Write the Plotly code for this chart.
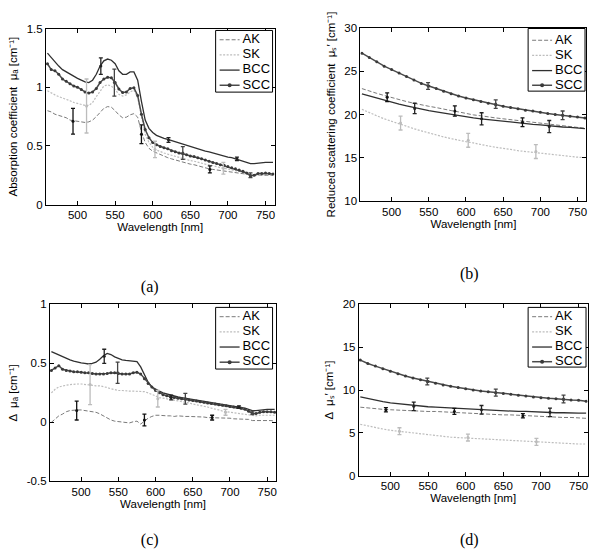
import plotly.graph_objects as go

# ---------------- data ----------------
WL_A = list(range(460, 761, 5))   # wavelengths for panels (a), (c)
WL_S = list(range(460, 761, 10))  # wavelengths for panels (b), (d)

# (a) absorption coefficient mu_a [cm^-1]
A_AK = [0.80,0.79,0.77,0.76,0.75,0.74,0.72,0.715,0.71,0.705,0.70,0.705,0.72,0.75,0.79,0.82,0.835,0.83,0.80,0.765,
        0.74,0.745,0.765,0.775,0.745,0.62,0.53,0.48,0.455,0.44,0.425,0.41,0.40,0.39,0.38,0.37,0.36,0.35,0.345,0.34,
        0.33,0.32,0.31,0.305,0.30,0.295,0.29,0.285,0.28,0.275,0.27,0.265,0.26,0.255,0.25,0.25,0.25,0.25,0.25,0.25,0.25]
A_SK = [0.97,0.95,0.935,0.92,0.91,0.90,0.885,0.87,0.86,0.85,0.845,0.845,0.87,0.92,0.97,1.01,1.02,1.01,0.98,0.94,
        0.925,0.935,0.96,0.975,0.91,0.74,0.60,0.53,0.49,0.465,0.45,0.44,0.43,0.42,0.41,0.40,0.39,0.38,0.375,0.37,
        0.36,0.35,0.345,0.34,0.33,0.325,0.315,0.31,0.30,0.295,0.29,0.285,0.28,0.27,0.255,0.25,0.25,0.255,0.255,0.255,0.255]
A_BCC = [1.29,1.25,1.21,1.18,1.15,1.13,1.11,1.09,1.075,1.06,1.045,1.04,1.06,1.11,1.18,1.225,1.24,1.23,1.20,1.14,
         1.11,1.11,1.13,1.13,1.06,0.88,0.72,0.65,0.615,0.59,0.575,0.565,0.555,0.545,0.535,0.52,0.51,0.50,0.495,0.485,
         0.475,0.465,0.455,0.45,0.44,0.43,0.42,0.41,0.405,0.40,0.39,0.385,0.375,0.36,0.35,0.35,0.355,0.36,0.36,0.36,0.36]
A_SCC = [1.20,1.15,1.14,1.11,1.07,1.05,1.03,1.01,1.00,0.98,0.96,0.95,0.96,0.99,1.04,1.07,1.085,1.08,1.04,0.985,
         0.955,0.96,0.99,0.995,0.93,0.77,0.64,0.57,0.53,0.51,0.495,0.485,0.475,0.46,0.45,0.44,0.435,0.425,0.415,0.41,
         0.40,0.39,0.38,0.37,0.36,0.35,0.34,0.335,0.325,0.315,0.305,0.295,0.285,0.27,0.245,0.25,0.265,0.265,0.27,0.265,0.26]

# (b) reduced scattering coefficient mu_s' [cm^-1]
B_AK = [23.0,22.7,22.45,22.2,21.95,21.7,21.5,21.3,21.1,20.95,20.8,20.6,20.45,20.3,20.1,19.95,19.85,19.7,19.6,19.5,
        19.4,19.3,19.2,19.1,19.0,18.9,18.8,18.7,18.6,18.5,18.4]
B_SK = [20.6,20.2,19.85,19.5,19.2,18.9,18.6,18.35,18.1,17.85,17.6,17.4,17.2,17.0,16.85,16.7,16.5,16.35,16.2,16.1,
        15.95,15.8,15.7,15.6,15.5,15.4,15.3,15.2,15.1,15.05,15.0]
B_BCC = [22.4,22.15,21.9,21.65,21.4,21.2,21.0,20.8,20.6,20.45,20.3,20.15,20.0,19.85,19.75,19.6,19.5,19.4,19.3,19.2,
         19.1,19.0,18.95,18.85,18.8,18.7,18.6,18.55,18.5,18.4,18.35]
B_SCC = [27.1,26.6,26.1,25.6,25.2,24.8,24.4,24.0,23.6,23.3,23.0,22.7,22.4,22.15,21.9,21.7,21.5,21.3,21.1,20.95,
         20.8,20.65,20.5,20.4,20.25,20.1,20.0,19.9,19.8,19.7,19.6]

# (c) delta mu_a [cm^-1]
C_AK = [0.00,0.03,0.055,0.07,0.09,0.10,0.105,0.105,0.105,0.10,0.10,0.095,0.085,0.072,0.055,0.035,0.02,0.01,0.005,0.003,
        0.0,-0.005,0.005,0.01,-0.015,0.01,0.035,0.05,0.06,0.06,0.055,0.055,0.055,0.05,0.055,0.05,0.05,0.05,0.05,0.05,
        0.045,0.045,0.04,0.04,0.04,0.04,0.035,0.035,0.035,0.03,0.03,0.03,0.03,0.025,0.015,0.015,0.02,0.02,0.02,0.015,0.01]
C_SK = [0.25,0.28,0.30,0.31,0.315,0.32,0.325,0.325,0.325,0.32,0.315,0.315,0.31,0.31,0.305,0.295,0.285,0.275,0.27,0.27,
        0.265,0.265,0.265,0.265,0.265,0.26,0.25,0.235,0.22,0.21,0.205,0.20,0.195,0.19,0.18,0.175,0.17,0.165,0.155,0.15,
        0.14,0.135,0.13,0.12,0.115,0.105,0.095,0.09,0.085,0.08,0.075,0.07,0.065,0.06,0.055,0.055,0.06,0.06,0.06,0.06,0.06]
C_BCC = [0.60,0.585,0.57,0.555,0.54,0.53,0.52,0.51,0.505,0.50,0.495,0.50,0.51,0.535,0.565,0.585,0.575,0.555,0.54,0.53,
         0.525,0.52,0.52,0.515,0.47,0.40,0.34,0.30,0.28,0.265,0.25,0.24,0.23,0.225,0.215,0.21,0.205,0.20,0.19,0.185,
         0.18,0.175,0.17,0.165,0.16,0.155,0.15,0.145,0.14,0.135,0.13,0.125,0.12,0.11,0.10,0.10,0.105,0.11,0.11,0.11,0.11]
C_SCC = [0.44,0.46,0.48,0.45,0.44,0.435,0.43,0.43,0.425,0.42,0.42,0.415,0.41,0.41,0.41,0.415,0.42,0.42,0.415,0.41,
         0.41,0.41,0.42,0.425,0.41,0.37,0.33,0.30,0.27,0.25,0.235,0.225,0.215,0.21,0.205,0.20,0.195,0.19,0.185,0.18,
         0.175,0.17,0.165,0.16,0.155,0.15,0.145,0.14,0.135,0.13,0.125,0.12,0.11,0.095,0.075,0.075,0.085,0.09,0.09,0.09,0.085]

# (d) delta mu_s' [cm^-1]
D_AK = [8.0,7.9,7.8,7.75,7.7,7.65,7.6,7.6,7.55,7.5,7.5,7.45,7.4,7.35,7.3,7.3,7.25,7.2,7.15,7.1,
        7.1,7.05,7.0,7.0,6.95,6.9,6.85,6.8,6.8,6.75,6.7]
D_SK = [6.0,5.8,5.6,5.45,5.3,5.2,5.05,4.95,4.85,4.75,4.65,4.6,4.5,4.45,4.4,4.35,4.3,4.25,4.2,4.15,
        4.1,4.05,4.0,3.95,3.9,3.85,3.8,3.8,3.75,3.7,3.7]
D_BCC = [9.2,9.0,8.8,8.65,8.5,8.4,8.3,8.2,8.1,8.05,8.0,7.95,7.9,7.85,7.8,7.75,7.7,7.65,7.6,7.6,
         7.55,7.5,7.5,7.45,7.4,7.4,7.35,7.35,7.3,7.3,7.3]
D_SCC = [13.5,13.1,12.8,12.5,12.2,11.9,11.65,11.4,11.2,11.0,10.8,10.6,10.45,10.3,10.15,10.0,9.9,9.8,9.7,9.6,
         9.5,9.4,9.3,9.2,9.1,9.05,9.0,8.9,8.85,8.8,8.7]

# error-bar wavelengths per series
EB_WL = {"AK": [494, 585, 676], "SK": [512, 603, 694], "BCC": [531, 621, 712], "SCC": [549, 640, 730]}
# error-bar means and half-widths per panel
EB_A = {"AK": ([0.71, 0.60, 0.30], [0.11, 0.08, 0.03]),
        "SK": ([0.84, 0.47, 0.31], [0.23, 0.07, 0.05]),
        "BCC": ([1.18, 0.55, 0.39], [0.07, 0.02, 0.015]),
        "SCC": ([1.04, 0.44, 0.25], [0.115, 0.055, 0.02])}
EB_B = {"AK": ([22.0, 20.4, 19.1], [0.5, 0.6, 0.5]),
        "SK": ([19.0, 17.0, 15.7], [0.8, 0.8, 0.8]),
        "BCC": ([20.7, 19.5, 18.6], [0.6, 0.7, 0.7]),
        "SCC": ([23.3, 21.2, 19.9], [0.4, 0.5, 0.5])}
EB_C = {"AK": ([0.10, 0.02, 0.04], [0.08, 0.05, 0.02]),
        "SK": ([0.32, 0.20, 0.085], [0.17, 0.07, 0.025]),
        "BCC": ([0.56, 0.21, 0.13], [0.06, 0.02, 0.01]),
        "SCC": ([0.42, 0.20, 0.08], [0.09, 0.045, 0.015])}
EB_D = {"AK": ([7.7, 7.5, 7.0], [0.25, 0.35, 0.25]),
        "SK": ([5.2, 4.45, 3.95], [0.4, 0.4, 0.4]),
        "BCC": ([8.1, 7.7, 7.4], [0.5, 0.5, 0.5]),
        "SCC": ([11.0, 9.7, 8.95], [0.4, 0.4, 0.45])}

NAMES = ["AK", "SK", "BCC", "SCC"]
CAPTIONS = ["(a)", "(b)", "(c)", "(d)"]
YTITLES = ["Absorption coefficient  \u03bc\u2090 [cm\u207b\u00b9]",
           "Reduced scattering coefficient  \u03bc\u209b\u2032 [cm\u207b\u00b9]",
           "\u0394  \u03bc\u2090 [cm\u207b\u00b9]",
           "\u0394  \u03bc\u209b\u2032 [cm\u207b\u00b9]"]

# ---------------- styles ----------------
FONT = "Liberation Sans"
LINE = {"AK": dict(color="#7a7a7a", width=1, dash="4px,2px"),
        "SK": dict(color="#bdbdbd", width=1.2, dash="2px,1.5px"),
        "BCC": dict(color="#303030", width=1.3, dash="solid"),
        "SCC": dict(color="#4a4a4a", width=1.5, dash="solid")}
EBCOL = {"AK": "#111111", "SK": "#bcbcbc", "BCC": "#222222", "SCC": "#444444"}

panels = [
    ("x", "y", WL_A, [A_AK, A_SK, A_BCC, A_SCC], EB_A),
    ("x2", "y2", WL_S, [B_AK, B_SK, B_BCC, B_SCC], EB_B),
    ("x3", "y3", WL_A, [C_AK, C_SK, C_BCC, C_SCC], EB_C),
    ("x4", "y4", WL_S, [D_AK, D_SK, D_BCC, D_SCC], EB_D),
]

fig = go.Figure()
for xa, ya, wl, series, eb in panels:
    for name, vals in zip(NAMES, series):
        fig.add_trace(go.Scatter(
            x=wl, y=vals, name=name, xaxis=xa, yaxis=ya, showlegend=False, hoverinfo="skip",
            mode="lines+markers" if name == "SCC" else "lines",
            line=LINE[name],
            marker=dict(size=3, color="#3a3a3a") if name == "SCC" else None,
        ))
    for name in NAMES:
        m, e = eb[name]
        fig.add_trace(go.Scatter(
            x=EB_WL[name], y=m, xaxis=xa, yaxis=ya, showlegend=False, mode="markers", hoverinfo="skip",
            marker=dict(size=3, color=EBCOL[name]),
            error_y=dict(type="data", array=e, visible=True, color=EBCOL[name], thickness=1.3, width=2),
        ))

# ---------------- legends & captions on a full-page pixel overlay ----------------
# box (left, top, right, bottom), line-sample x0, x1, text x, row y centres  (page pixels)
LEGENDS = [
    ((216, 25, 273, 88), 220, 240, 243, [34.5, 50, 65.5, 81]),
    ((529, 23, 586, 87), 533, 553, 556, [35, 50.5, 66, 81]),
    ((216, 308, 273, 371), 220, 240, 243, [317.5, 333, 348.5, 364]),
    ((529, 308, 587, 369), 533, 553, 556, [317.5, 333, 348.5, 363.5]),
]
CAP_POS = [(150, 288), (470, 275), (150, 547), (470, 547)]

for (l, t, r, b), lx0, lx1, tx, rows in LEGENDS:
    fig.add_trace(go.Scatter(x=[l, r, r, l, l], y=[t, t, b, b, t], xaxis="x5", yaxis="y5", mode="lines",
                             fill="toself", fillcolor="white", line=dict(color="black", width=1),
                             showlegend=False, hoverinfo="skip"))
    for name, ry in zip(NAMES, rows):
        fig.add_trace(go.Scatter(x=[lx0, lx1], y=[ry, ry], xaxis="x5", yaxis="y5", mode="lines",
                                 line=LINE[name], showlegend=False, hoverinfo="skip"))
        if name == "SCC":
            fig.add_trace(go.Scatter(x=[(lx0 + lx1) / 2], y=[ry], xaxis="x5", yaxis="y5", mode="markers",
                                     marker=dict(size=4, color="#3a3a3a"), showlegend=False, hoverinfo="skip"))
    fig.add_trace(go.Scatter(x=[tx] * 4, y=rows, text=NAMES, mode="text", textposition="middle right",
                             textfont=dict(family=FONT, size=13, color="black"), xaxis="x5", yaxis="y5",
                             showlegend=False, hoverinfo="skip"))

fig.add_trace(go.Scatter(x=[c[0] for c in CAP_POS], y=[c[1] for c in CAP_POS], text=CAPTIONS, mode="text",
                         textposition="middle center",
                         textfont=dict(family="Liberation Serif", size=16, color="black"),
                         xaxis="x5", yaxis="y5", showlegend=False, hoverinfo="skip"))

TF = dict(family=FONT, size=11.5, color="black")
axis_common = dict(showline=True, linecolor="black", linewidth=1, mirror="ticks", ticks="inside",
                   ticklen=4, tickcolor="black", showgrid=False, zeroline=False,
                   tickfont=dict(family=FONT, size=11.5, color="black"))

xt = dict(tickvals=[500, 550, 600, 650, 700, 750], range=[458, 762],
          title=dict(text="Wavelength [nm]", font=TF, standoff=1))

fig.update_layout(
    width=600, height=560, margin=dict(l=0, r=0, t=0, b=0),
    paper_bgcolor="white", plot_bgcolor="rgba(0,0,0,0)", showlegend=False,
    font=dict(family=FONT, size=12, color="black"),
    xaxis=dict(domain=[0.0767, 0.4583], anchor="y", **xt, **axis_common),
    yaxis=dict(domain=[0.6375, 0.9589], anchor="x", range=[0, 1.5], tickvals=[0, 0.5, 1, 1.5],
               ticktext=["0", "0.5", "1", "1.5"],
               title=dict(text=YTITLES[0], font=TF, standoff=6), **axis_common),
    xaxis2=dict(domain=[0.6017, 0.979], anchor="y2", **xt, **axis_common),
    yaxis2=dict(domain=[0.6446, 0.9595], anchor="x2", range=[10, 30], tickvals=[10, 15, 20, 25, 30],
                title=dict(text=YTITLES[1], font=TF, standoff=6), **axis_common),
    xaxis3=dict(domain=[0.0833, 0.461], anchor="y3", **xt, **axis_common),
    yaxis3=dict(domain=[0.1327, 0.4554], anchor="x3", range=[-0.5, 1], tickvals=[-0.5, 0, 0.5, 1],
                ticktext=["-0.5", "0", "0.5", "1"],
                title=dict(text=YTITLES[2], font=TF, standoff=6), **axis_common),
    xaxis4=dict(domain=[0.599, 0.981], anchor="y4", **xt, **axis_common),
    yaxis4=dict(domain=[0.1429, 0.4554], anchor="x4", range=[0, 20], tickvals=[0, 5, 10, 15, 20],
                title=dict(text=YTITLES[3], font=TF, standoff=6), **axis_common),
    xaxis5=dict(domain=[0, 1], range=[0, 600], anchor="y5", visible=False, fixedrange=True),
    yaxis5=dict(domain=[0, 1], range=[560, 0], anchor="x5", visible=False, fixedrange=True),
)

fig.write_html("out.html", config={"displayModeBar": False},
               post_script="document.body.style.margin='0px';")
